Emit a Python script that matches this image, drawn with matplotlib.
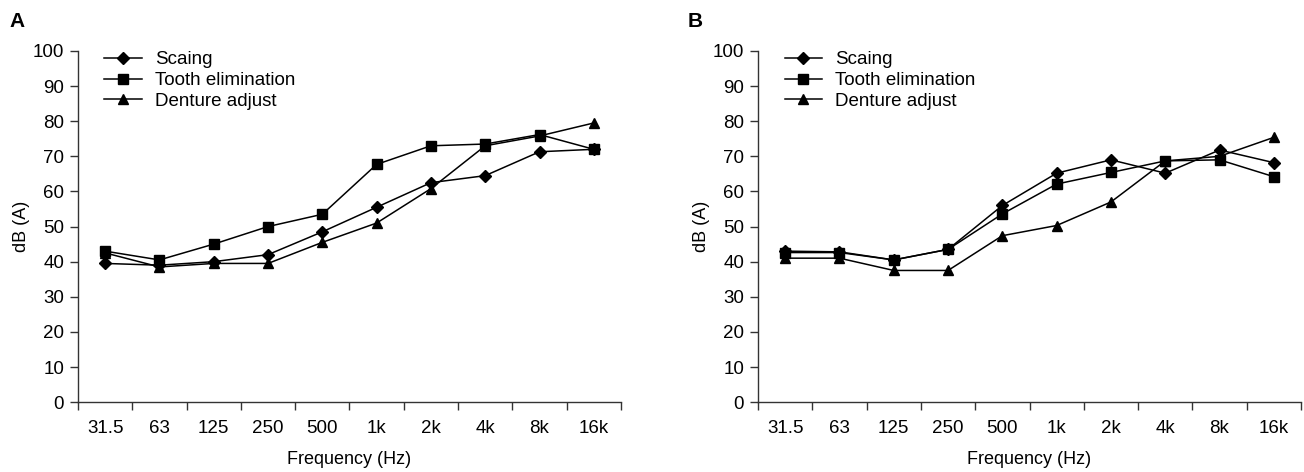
import matplotlib.pyplot as plt
import numpy as np

plt.rcParams['font.family'] = ['Liberation Sans', 'DejaVu Sans']

freqs = ['31.5', '63', '125', '250', '500', '1k', '2k', '4k', '8k', '16k']

# panel A
a_scaling = [39.5, 39, 40, 42, 48.5, 55.5, 62.5, 64.5, 71.3, 72]
a_tooth = [43, 40.5, 45, 50, 53.5, 67.7, 73, 73.5, 76.2, 72]
a_denture = [42.5, 38.5, 39.5, 39.5, 45.5, 51, 60.8, 73, 75.8, 79.5]

# panel B
b_scaling = [43, 42.8, 40.5, 43.5, 56, 65.2, 69, 65.2, 71.8, 68.2]
b_tooth = [42.6, 42.6, 40.5, 43.5, 53.6, 62.1, 65.4, 68.7, 69, 64.2]
b_denture = [41, 41, 37.5, 37.5, 47.4, 50.3, 57, 68.7, 70, 75.4]

fig = plt.figure(figsize=(13.04, 4.72), dpi=100)
ax_a = fig.add_axes([0.0598, 0.148, 0.4164, 0.744])
ax_b = fig.add_axes([0.5813, 0.148, 0.4164, 0.744])


def draw_panel(ax, scaling, tooth, denture, letter, letter_x):
    x = np.arange(len(freqs)) + 0.5
    ax.plot(x, scaling, color='black', lw=1.1, marker='D', ms=6.5, label='Scaing')
    ax.plot(x, tooth, color='black', lw=1.1, marker='s', ms=6.5, label='Tooth elimination')
    ax.plot(x, denture, color='black', lw=1.1, marker='^', ms=7.5, label='Denture adjust')

    ax.set_xlim(0, len(freqs))
    ax.set_ylim(0, 100)
    ax.set_yticks(range(0, 101, 10))
    ax.set_xticks(np.arange(len(freqs) + 1))
    ax.set_xticklabels([])
    ax.set_xticks(x, minor=True)
    ax.set_xticklabels(freqs, minor=True)
    ax.tick_params(axis='x', which='minor', length=0, pad=13, labelsize=13.5)
    ax.tick_params(axis='x', which='major', length=6, width=1, color='#333333')
    ax.tick_params(axis='y', length=6, width=1, labelsize=13.5, color='#333333', pad=4)

    for side in ['top', 'right']:
        ax.spines[side].set_visible(False)
    for side in ['left', 'bottom']:
        ax.spines[side].set_color('#333333')
        ax.spines[side].set_linewidth(1)

    ax.set_xlabel('Frequency (Hz)', fontsize=13, labelpad=10)
    ax.set_ylabel('dB (A)', fontsize=13, labelpad=2)

    ax.legend(loc='upper left', frameon=False, fontsize=13.5, handlelength=2.0,
              labelspacing=0.2, borderaxespad=0.0, bbox_to_anchor=(0.035, 1.021),
              handletextpad=0.7)
    fig.text(letter_x, 0.955, letter, fontsize=15, fontweight='bold', va='center')


draw_panel(ax_a, a_scaling, a_tooth, a_denture, 'A', 0.007)
draw_panel(ax_b, b_scaling, b_tooth, b_denture, 'B', 0.527)

fig.savefig('out.png', dpi=100)
